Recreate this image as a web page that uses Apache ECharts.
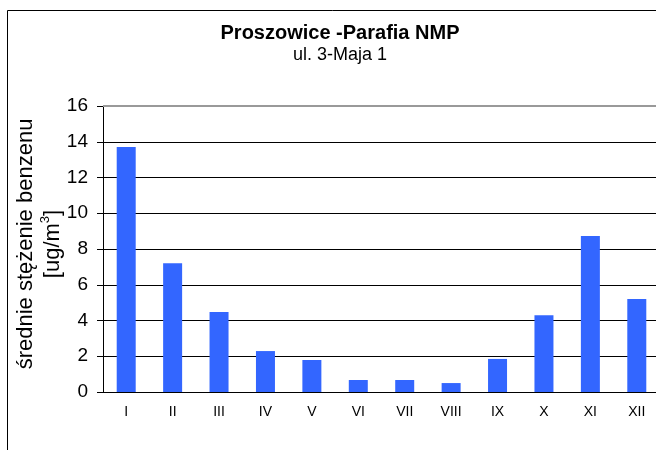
<!DOCTYPE html>
<html>
<head>
<meta charset="utf-8">
<script src="https://cdn.jsdelivr.net/npm/echarts@6/dist/echarts.min.js"></script>
<style>
    html, body { margin: 0; padding: 0; background: #fff; }
    #chart { width: 656px; height: 450px; }
</style>
</head>
<body>
<div id="chart"></div>
<script>
    // miesiące
    const months = ['I', 'II', 'III', 'IV', 'V', 'VI', 'VII', 'VIII', 'IX', 'X', 'XI', 'XII'];
    // średnie stężenie benzenu [ug/m3]
    const benzen = [13.7, 7.2, 4.47, 2.29, 1.79, 0.67, 0.67, 0.5, 1.85, 4.3, 8.73, 5.2];
    const yMin = 0;
    const yMax = 16;
    const yStep = 2;

    const font = '"Liberation Sans", Arial, sans-serif';
    const myChart = echarts.init(document.getElementById('chart'));

    const option = {
        animation: false,
        backgroundColor: '#fff',
        title: {
            text: 'Proszowice -Parafia NMP',
            subtext: 'ul. 3-Maja 1',
            left: 335,
            textAlign: 'center',
            top: 18,
            itemGap: 3,
            textStyle: { fontFamily: font, fontSize: 20, fontWeight: 'bold', color: '#000' },
            subtextStyle: { fontFamily: font, fontSize: 18, color: '#000' }
        },
        graphic: [{
            type: 'rect',
            shape: { x: 7.5, y: 10.5, width: 700, height: 500 },
            style: { fill: 'none', stroke: '#000', lineWidth: 1 },
            silent: true
        }],
        grid: { left: 103, top: 106, width: 557, height: 286, outerBoundsMode: 'none' },
        xAxis: {
            type: 'category',
            data: months,
            axisLine: { lineStyle: { color: '#000', width: 1 } },
            axisTick: { length: 4, lineStyle: { color: '#000' } },
            axisLabel: { fontFamily: font, fontSize: 14, color: '#000', margin: 13 }
        },
        yAxis: {
            type: 'value',
            min: yMin,
            max: yMax,
            interval: yStep,
            name: 'średnie stężenie benzenu\n[ug/m{sup|3}]',
            nameLocation: 'middle',
            nameRotate: 90,
            nameGap: 37,
            nameMoveOverlap: false,
            nameTextStyle: {
                fontFamily: font, fontSize: 22, color: '#000', lineHeight: 27,
                padding: [0, 0, 0, 10],
                rich: { sup: { fontFamily: font, fontSize: 13, color: '#000', verticalAlign: 'top', lineHeight: 27 } }
            },
            axisLine: { show: true, lineStyle: { color: '#000', width: 1 } },
            axisTick: { show: true, length: 6, lineStyle: { color: '#000' } },
            axisLabel: { fontFamily: font, fontSize: 19, color: '#000', margin: 15 },
            splitLine: {
                showMaxLine: false,
                lineStyle: { color: '#000', width: 1 }
            }
        },
        series: [{
            type: 'bar',
            data: benzen,
            barWidth: 19,
            itemStyle: { color: '#3366FF' },
            markLine: {
                silent: true,
                symbol: 'none',
                label: { show: false },
                lineStyle: { color: '#999', type: 'solid', width: 2 },
                data: [{ yAxis: yMax }]
            }
        }]
    };
    myChart.setOption(option);
</script>
</body>
</html>
